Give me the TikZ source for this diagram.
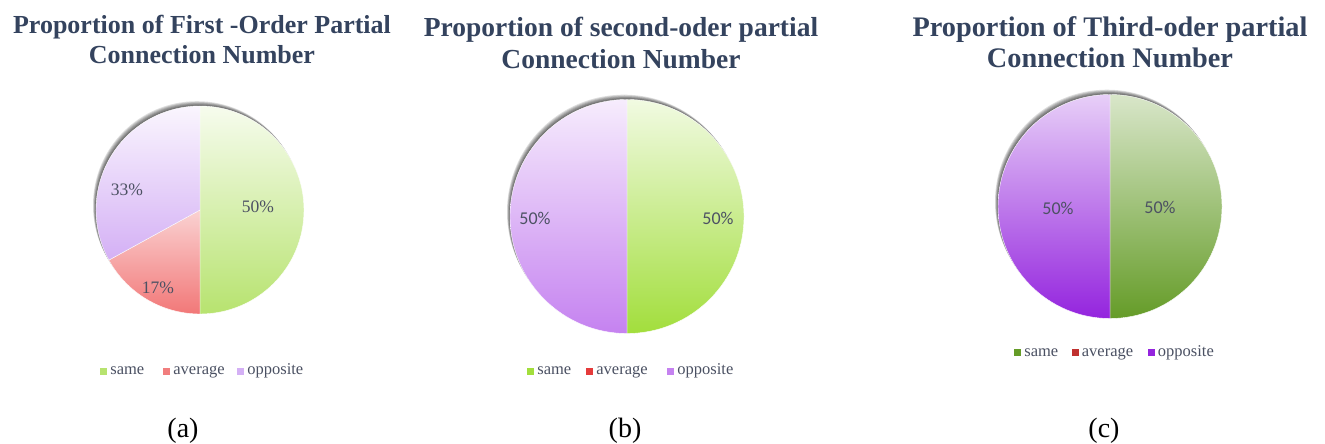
\documentclass[tikz,border=0pt]{standalone}
\usepackage{fontspec}
\setmainfont{Liberation Serif}
\newfontfamily\pctfont{Carlito}
\usepackage{xcolor}
\usetikzlibrary{positioning}

\definecolor{titleblue}{HTML}{34435E}
\definecolor{pctgrey}{HTML}{4C5163}
\definecolor{keygrey}{HTML}{4A5062}
% chart (a)
\definecolor{sameA}{HTML}{B7E36F}
\definecolor{avgA}{HTML}{F17E7E}
\definecolor{oppA}{HTML}{D4B0F5}
% chart (b)
\definecolor{sameB}{HTML}{A2DE3C}
\definecolor{avgB}{HTML}{E53B3B}
\definecolor{oppB}{HTML}{C582F0}
% chart (c)
\definecolor{sameC}{HTML}{659C28}
\definecolor{avgC}{HTML}{C0312F}
\definecolor{oppC}{HTML}{9424DE}

\tikzset{
  every picture/.style = {
    x = 1pt,
    y = 1pt,
    node distance = 0pt and 3pt,
  }
  , % thin layers of the shadow round a pie
  pie-shadow/.style = {
    fill = black,
    opacity = .13
  }
  , % one slice, top and bottom colour
  slice/.style 2 args = {
    top color = #1,
    bottom color = #2,
    draw = white,
    line width = .4pt
  }
  ,
  chart-title/.style = {
    align = center,
    anchor = north,
    inner sep = 0pt,
    text = titleblue
  }
  , % percentages in the pies
  label-pct/.style = {
    font = \fontsize{17.5}{17.5}\selectfont,
    text = pctgrey
  }
  , % small squares of the legends
  key/.style = {
    fill = #1,
    minimum size = 7pt,
    inner sep = 0pt
  }
  , % legend texts
  label-key/.style = {
    font = \fontsize{16.5}{16.5}\selectfont,
    text = keygrey,
    inner sep = 0pt,
    text height = 10pt,
    text depth = 3pt
  }
  , % (a) (b) (c)
  label-sub/.style = {
    font = \fontsize{28}{28}\selectfont,
    anchor = base
  }
}

\begin{document}
\begin{tikzpicture}
\useasboundingbox (0,0) rectangle (1325,444);

% (a)
\node[chart-title, font=\bfseries\fontsize{26}{30}\selectfont] (titleA) at (202,429)
  {Proportion of First -Order Partial\\Connection Number};
\coordinate (pieA) at (200,234);
\foreach \d in {1,...,6}
  \fill[pie-shadow] ([shift={(-.5*\d,.8*\d)}]pieA) circle[radius=104];
\shade[slice={sameA!12!white}{sameA}] (pieA) -- ++(90:104)
  arc[start angle=90, end angle=-90, radius=104] -- cycle;
\shade[slice={avgA!35!white}{avgA!95!red}] (pieA) -- ++(-90:104)
  arc[start angle=-90, end angle=-151.2, radius=104] -- cycle;
\shade[slice={oppA!12!white}{oppA}] (pieA) -- ++(-151.2:104)
  arc[start angle=-151.2, end angle=-270, radius=104] -- cycle;
\node[label-pct] (pctA1) at (258,237) {50\%};
\node[label-pct] (pctA2) at (158,156) {17\%};
\node[label-pct] (pctA3) at (127,254) {33\%};
\node[key=sameA] (keyA1) at (103.5,72.5) {};
\node[label-key, right=of keyA1] (txtA1) {same};
\node[key=avgA] (keyA2) at (166.5,72.5) {};
\node[label-key, right=of keyA2] (txtA2) {average};
\node[key=oppA] (keyA3) at (240.5,72.5) {};
\node[label-key, right=of keyA3] (txtA3) {opposite};
\node[label-sub] (subA) at (183,6) {(a)};

% (b)
\node[chart-title, font=\bfseries\fontsize{27.5}{32}\selectfont] (titleB) at (621,427)
  {Proportion of second-oder partial\\Connection Number};
\coordinate (pieB) at (627,227.5);
\foreach \d in {1,...,6}
  \fill[pie-shadow] ([shift={(-.5*\d,.8*\d)}]pieB) circle[radius=117];
\shade[slice={sameB!15!white}{sameB}] (pieB) -- ++(90:117)
  arc[start angle=90, end angle=-90, radius=117] -- cycle;
\shade[slice={oppB!15!white}{oppB}] (pieB) -- ++(-90:117)
  arc[start angle=-90, end angle=-270, radius=117] -- cycle;
\node[label-pct, font=\pctfont\fontsize{18}{18}\selectfont] (pctB1) at (718,226) {50\%};
\node[label-pct, font=\pctfont\fontsize{18}{18}\selectfont] (pctB2) at (535,226) {50\%};
\node[key=sameB] (keyB1) at (530.5,72.5) {};
\node[label-key, right=of keyB1] (txtB1) {same};
\node[key=avgB] (keyB2) at (589.5,72.5) {};
\node[label-key, right=of keyB2] (txtB2) {average};
\node[key=oppB] (keyB3) at (670.5,72.5) {};
\node[label-key, right=of keyB3] (txtB3) {opposite};
\node[label-sub] (subB) at (625,6) {(b)};

% (c)
\node[chart-title, font=\bfseries\fontsize{28.3}{31}\selectfont] (titleC) at (1110,428)
  {Proportion of Third-oder partial\\Connection Number};
\coordinate (pieC) at (1110,237.5);
\foreach \d in {1,...,6}
  \fill[pie-shadow] ([shift={(-.5*\d,.8*\d)}]pieC) circle[radius=112];
\shade[slice={sameC!25!white}{sameC}] (pieC) -- ++(90:112)
  arc[start angle=90, end angle=-90, radius=112] -- cycle;
\shade[slice={oppC!22!white}{oppC}] (pieC) -- ++(-90:112)
  arc[start angle=-90, end angle=-270, radius=112] -- cycle;
\node[label-pct, font=\pctfont\fontsize{18}{18}\selectfont] (pctC1) at (1160,237) {50\%};
\node[label-pct, font=\pctfont\fontsize{18}{18}\selectfont] (pctC2) at (1058,236) {50\%};
\node[key=sameC] (keyC1) at (1017.5,91) {};
\node[label-key, right=of keyC1] (txtC1) {same};
\node[key=avgC] (keyC2) at (1075,91) {};
\node[label-key, right=of keyC2] (txtC2) {average};
\node[key=oppC] (keyC3) at (1151,91) {};
\node[label-key, right=of keyC3] (txtC3) {opposite};
\node[label-sub] (subC) at (1104,6) {(c)};
\end{tikzpicture}
\end{document}
